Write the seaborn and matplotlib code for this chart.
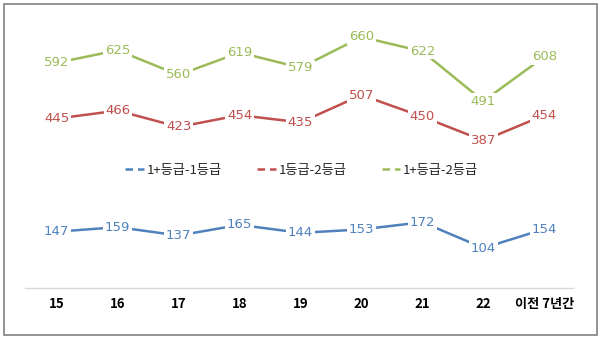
import matplotlib
matplotlib.use("Agg")
import matplotlib.pyplot as plt
import seaborn as sns
import pandas as pd
from matplotlib.patches import Rectangle
from matplotlib.lines import Line2D

categories = ["15", "16", "17", "18", "19", "20", "21", "22", "이전 7년간"]
series_names = ["1+등급-1등급", "1등급-2등급", "1+등급-2등급"]
s1 = [147, 159, 137, 165, 144, 153, 172, 104, 154]
s2 = [445, 466, 423, 454, 435, 507, 450, 387, 454]
s3 = [592, 625, 560, 619, 579, 660, 622, 491, 608]
colors = ["#4F81BD", "#C0504D", "#9BBB59"]

rows = []
for name, vals in zip(series_names, [s1, s2, s3]):
    for i, (c, v) in enumerate(zip(categories, vals)):
        rows.append({"pos": i, "cat": c, "series": name, "value": v})
df = pd.DataFrame(rows)

sns.set_theme(style="white")
plt.rcParams["font.family"] = ["Noto Sans CJK KR", "DejaVu Sans"]

fig = plt.figure(figsize=(6.0, 3.39), dpi=100)
ax = fig.add_axes([25 / 600, 1 - 287.5 / 339, 548 / 600, (287.5 - 21.8) / 339])

sns.lineplot(data=df, x="pos", y="value", hue="series", palette=colors,
             hue_order=series_names, linewidth=1.8, ax=ax, legend=False, sort=False)

for name, vals, col in zip(series_names, [s1, s2, s3], colors):
    for i, v in enumerate(vals):
        ax.text(i, v, str(v), ha="center", va="center", color=col, fontsize=9.5,
                family=["DejaVu Sans"],
                bbox=dict(boxstyle="square,pad=0.12", fc="white", ec="none"))

ax.set_xlim(-0.52, 8.47)
ax.set_ylim(0, 700)
ax.set_xticks(range(len(categories)))
ax.set_xticklabels(categories, fontsize=9.5, fontweight="bold", color="#000000")
ax.tick_params(axis="x", length=0, pad=7)
ax.set_yticks([])
ax.set_xlabel("")
ax.set_ylabel("")
for side in ["top", "left", "right"]:
    ax.spines[side].set_visible(False)
ax.spines["bottom"].set_color("#D9D9D9")
ax.spines["bottom"].set_linewidth(1)

handles = [Line2D([0], [0], color=c, linewidth=1.8, linestyle=(0, (3, 2)))
           for c in colors]
ax.legend(handles, series_names, loc="center", bbox_to_anchor=(0.505, 0.442),
          ncol=3, frameon=False, fontsize=9.5, handlelength=1.4,
          columnspacing=2.7, handletextpad=0.2)

fig.patches.append(Rectangle((4 / 600, 4 / 339), 593 / 600, 331 / 339,
                             transform=fig.transFigure, fill=False,
                             edgecolor="#808080", linewidth=1.2))

fig.savefig("out.png", dpi=100)
